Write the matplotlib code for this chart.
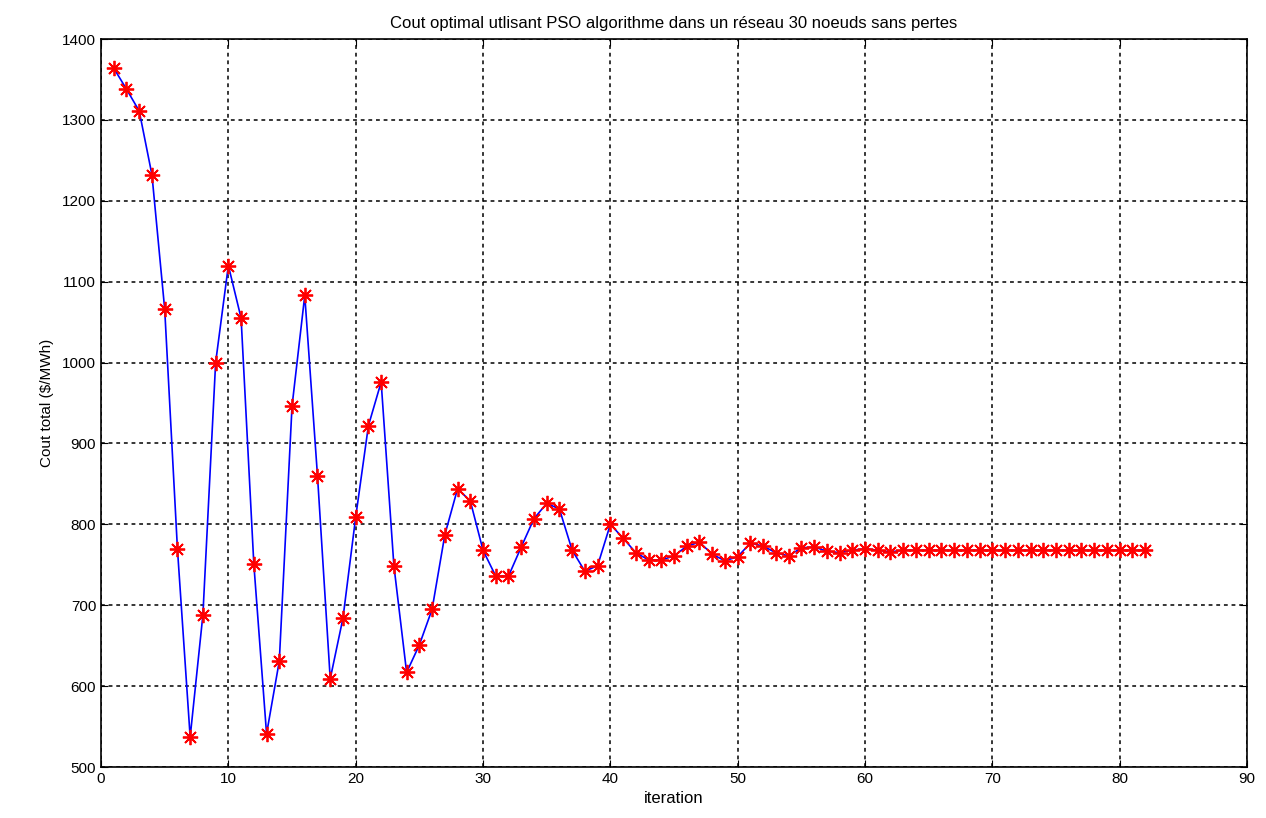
import matplotlib
matplotlib.use("Agg")
import matplotlib.pyplot as plt

iterations = list(range(1, 83))
cout = [1364, 1338, 1311, 1232, 1066, 770, 537, 688, 1000, 1120,
        1055, 751, 541, 631, 946, 1083, 860, 609, 684, 809,
        922, 976, 749, 617, 651, 695, 787, 844, 829, 768,
        736, 736, 772, 807, 826, 819, 768, 742, 749, 800,
        783, 765, 756, 756, 761, 773, 778, 763, 755, 760,
        777, 773, 765, 761, 771, 772, 767, 765, 768, 770,
        768, 766] + [768] * 20

plt.rcParams['font.family'] = ['Liberation Sans', 'DejaVu Sans']

fig = plt.figure(figsize=(12.66, 8.18), dpi=100)
ax = fig.add_axes([0.0798, 0.0623, 0.9052, 0.89])

ax.plot(iterations, cout, color='blue', linewidth=1.2)
# asterisk markers like matlab '*'
ax.plot(iterations, cout, linestyle='none', marker=(8, 2, 0), color='red',
        markersize=11, markeredgewidth=1.3)
ax.plot(iterations, cout, linestyle='none', marker='o', color='red',
        markersize=3.5, markeredgewidth=0)

ax.set_xlim(0, 90)
ax.set_ylim(500, 1400)
ax.set_xticks(range(0, 91, 10))
ax.set_yticks(range(500, 1401, 100))
ax.grid(True, color='black', linestyle=(0, (2.5, 2.5)), linewidth=1.1)
ax.tick_params(direction='in', length=5, labelsize=11, top=True, right=True,
               labeltop=False, labelright=False)
for s in ax.spines.values():
    s.set_linewidth(1.2)

ax.set_title('Cout optimal utlisant PSO algorithme dans un réseau 30 noeuds sans pertes',
             fontsize=12, pad=8)
ax.set_xlabel('iteration', fontsize=12, labelpad=4)
ax.set_ylabel('Cout total ($/MWh)', fontsize=11, labelpad=6)

fig.savefig('out.png', dpi=100)
